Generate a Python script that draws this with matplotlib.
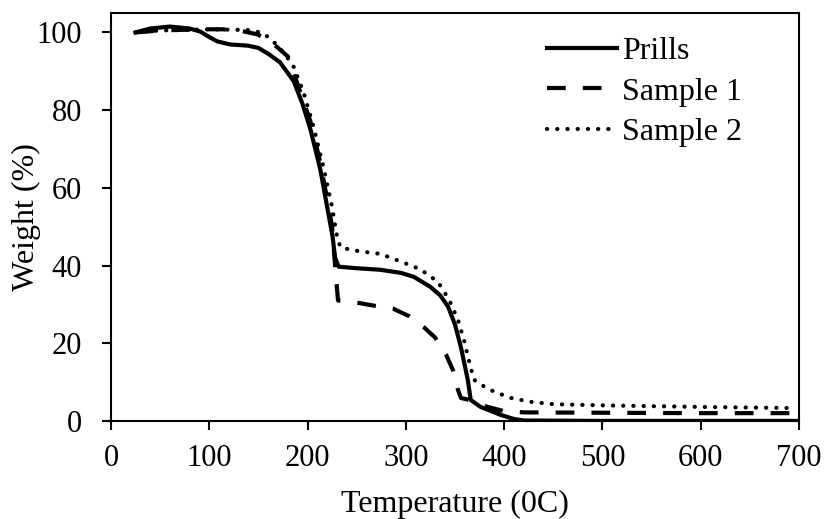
import matplotlib
matplotlib.use("Agg")
import matplotlib.pyplot as plt

# temperature (deg C) / weight (%)
prills_t = [25, 40, 60, 80, 91, 100, 108, 121, 139, 150, 160, 172, 186, 195, 203,
            213, 220, 225.5, 228, 231.6, 250, 274, 295, 308, 325, 335, 343, 350,
            356, 363, 366, 376, 390, 397, 410, 420, 500, 600, 700]
prills_w = [100, 101, 101.5, 101, 100.2, 98.8, 97.7, 96.9, 96.6, 96, 94.5, 92.3,
            87.4, 81.5, 75, 64.7, 55, 47.4, 42, 39.7, 39.3, 38.9, 38.1, 37.1, 34.5,
            32.3, 29.4, 24.8, 19, 10.6, 5.4, 3.6, 2.2, 1.5, 0.5, 0.1, 0, 0, 0]

s1_t = [25, 50, 91, 114, 134, 149, 162, 170, 180, 186, 203, 213, 220, 225, 228,
        231, 240, 251, 269, 287, 303, 318, 330, 341, 348, 353, 356, 363, 370, 385,
        400, 420, 500, 600, 700]
s1_w = [100, 100.5, 100.8, 100.8, 100.3, 99.5, 97.7, 96, 93.8, 89.5, 77, 66.5,
        57, 50, 40, 31, 30.7, 30.4, 29.6, 28.9, 27, 24.2, 21.4, 17, 13, 8, 5.9,
        5.5, 4.5, 3.5, 2.5, 2.2, 2.1, 2, 2]

s2_t = [25, 50, 100, 140, 152, 160, 170, 185, 196, 206, 216, 225, 230, 233.6, 254,
        274, 295, 315, 332.6, 344, 353, 359, 364, 369.4, 376.5, 390, 407, 427, 450,
        500, 600, 696]
s2_w = [100, 100.5, 100.8, 100.6, 100, 98.8, 96.5, 91.7, 84.5, 75.8, 65.5, 55,
        47.4, 44.6, 43.6, 43, 41, 39, 35.8, 31.2, 26, 20.9, 15.7, 10.6, 9.3, 7.5,
        5.9, 4.9, 4.3, 4, 3.6, 3.3]

plt.rcParams["font.family"] = ["Liberation Serif", "DejaVu Serif"]
plt.rcParams["font.size"] = 22

fig = plt.figure(figsize=(8.25, 5.19), dpi=100)
ax = fig.add_axes([0.1345, 0.189, 0.834, 0.786])

ax.plot(prills_t, prills_w, color="black", lw=3, label="Prills")
ax.plot(s1_t, s1_w, color="black", lw=3, linestyle=(0, (4.5, 4.1)), label="Sample 1")
ax.plot(s2_t, s2_w, color="black", lw=3, linestyle=(0, (0.05, 2.4)),
        dash_capstyle="round", label="Sample 2")

ax.set_xlim(0, 700)
ax.set_ylim(0, 105)
ax.set_xticks(range(0, 701, 100))
ax.set_yticks(range(0, 101, 20))
ax.set_xlabel("Temperature (0C)", fontsize=23)
ax.set_ylabel("Weight (%)", fontsize=23)
ax.xaxis.set_label_coords(0.5, -0.168)
ax.yaxis.set_label_coords(-0.102, 0.5)
for s in ax.spines.values():
    s.set_linewidth(1.5)
ax.tick_params(direction="out", length=6.5, width=1.5)
ax.tick_params(axis="x", pad=10)
ax.tick_params(axis="y", pad=14.5)

ax.legend(loc="upper left", bbox_to_anchor=(0.634, 0.942), frameon=False,
          fontsize=23, handlelength=2.2, handletextpad=0.15, labelspacing=0.35,
          borderaxespad=0, borderpad=0)

fig.savefig("out.png", dpi=100)
